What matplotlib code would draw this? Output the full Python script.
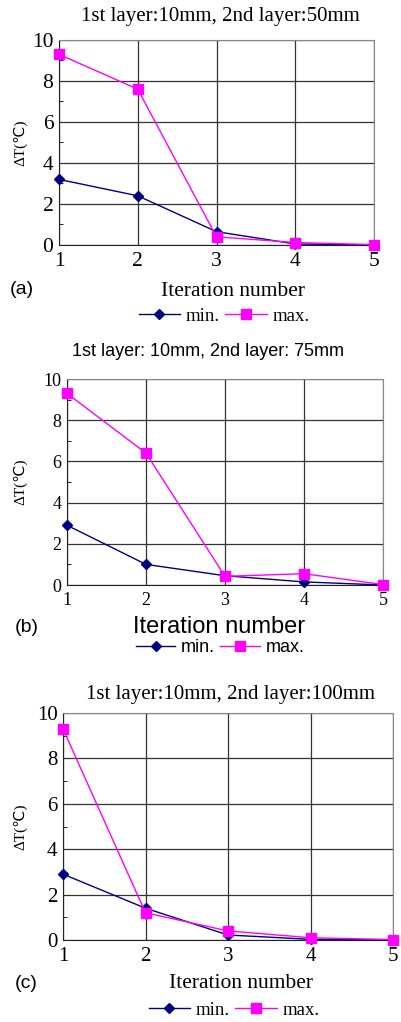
import matplotlib.pyplot as plt
from matplotlib.ticker import MultipleLocator

# === DATA ===
iterations = [1, 2, 3, 4, 5]

min_a = [3.2, 2.4, 0.65, 0.05, 0.0]
max_a = [9.3, 7.6, 0.4, 0.12, 0.02]

min_b = [2.9, 1.0, 0.45, 0.15, 0.0]
max_b = [9.3, 6.4, 0.42, 0.55, 0.02]

min_c = [2.9, 1.4, 0.22, 0.03, 0.0]
max_c = [9.3, 1.2, 0.4, 0.1, 0.02]

titles = ["1st layer:10mm, 2nd layer:50mm",
          "1st layer: 10mm, 2nd layer: 75mm",
          "1st layer:10mm, 2nd layer:100mm"]
tags = ["(a)", "(b)", "(c)"]

# === STYLE ===
W, H = 401, 1022
MIN_COLOR = '#000080'
MAX_COLOR = '#ff00ff'
SERIF = 'Liberation Serif'
SANS = 'Liberation Sans'

# pixel boxes (left, top, right, bottom) of each plot area
BOXES = [(59, 40, 374, 245), (67, 379, 383, 585), (63, 713, 393, 940)]

# per-panel text setup
PANELS = [
    dict(title_font=SERIF, title_size=15, title_y=16, title_x=220,
         tick_size=15.5, xlab_font=SERIF, xlab_size=15.5, xlab_y=292,
         xlab_x=233, tag_x=10, tag_y=290, leg_font=SERIF, leg_size=13.5,
         leg_y=316, leg_x=224),
    dict(title_font=SANS, title_size=13, title_y=351, title_x=208,
         tick_size=13, xlab_font=SANS, xlab_size=17, xlab_y=627,
         xlab_x=219, tag_x=15, tag_y=627, leg_font=SANS, leg_size=13,
         leg_y=648, leg_x=220),
    dict(title_font=SERIF, title_size=15, title_y=695, title_x=230,
         tick_size=15, xlab_font=SERIF, xlab_size=15.5, xlab_y=983,
         xlab_x=241, tag_x=15, tag_y=983, leg_font=SERIF, leg_size=13.5,
         leg_y=1010, leg_x=234),
]

fig = plt.figure(figsize=(W / 100, H / 100), dpi=100)

series = [(min_a, max_a), (min_b, max_b), (min_c, max_c)]

for k in range(3):
    l, t, r, b = BOXES[k]
    p = PANELS[k]
    ax = fig.add_axes([l / W, 1 - b / H, (r - l) / W, (b - t) / H])
    ys_min, ys_max = series[k]

    h_min, = ax.plot(iterations, ys_min, color=MIN_COLOR, marker='D',
                     markersize=5.5, linewidth=1.0, label='min.',
                     clip_on=False, zorder=3)
    h_max, = ax.plot(iterations, ys_max, color=MAX_COLOR, marker='s',
                     markersize=7, linewidth=1.0, label='max.',
                     clip_on=False, zorder=4)

    ax.set_xlim(1, 5)
    ax.set_ylim(0, 10)
    ax.set_xticks(iterations)
    ax.yaxis.set_major_locator(MultipleLocator(2))
    ax.yaxis.set_minor_locator(MultipleLocator(1))
    ax.grid(True, which='major', color='#333333', linewidth=0.9)
    ax.tick_params(axis='x', length=0, pad=5)
    ax.tick_params(axis='y', which='major', length=0, pad=4)
    ax.tick_params(axis='y', which='minor', length=3, direction='in')
    for lab in ax.get_xticklabels() + ax.get_yticklabels():
        lab.set_fontfamily(SERIF)
        lab.set_fontsize(p['tick_size'])
    for side in ['top', 'right']:
        ax.spines[side].set_color('#888888')
    ax.spines['left'].set_color('#222222')
    ax.spines['bottom'].set_color('#222222')

    cy = (t + b) / 2
    fig.text(20 / W, 1 - cy / H, 'ΔT(℃)', rotation=90, ha='center',
             va='center', fontsize=11, family=[SERIF, 'DejaVu Sans'])

    fig.text(p['title_x'] / W, 1 - p['title_y'] / H, titles[k],
             ha='center', va='center', fontsize=p['title_size'],
             family=p['title_font'])
    fig.text(p['xlab_x'] / W, 1 - p['xlab_y'] / H, 'Iteration number',
             ha='center', va='center', fontsize=p['xlab_size'],
             family=p['xlab_font'])
    fig.text(p['tag_x'] / W, 1 - p['tag_y'] / H, tags[k], ha='left',
             va='center', fontsize=14, family=SANS)

    fig.legend(handles=[h_min, h_max], loc='center',
               bbox_to_anchor=(p['leg_x'] / W, 1 - p['leg_y'] / H),
               ncol=2, frameon=False, handlelength=2.2, handletextpad=0.3,
               columnspacing=0.3, borderpad=0,
               prop={'family': p['leg_font'], 'size': p['leg_size']})

fig.savefig('out.png', dpi=100)
